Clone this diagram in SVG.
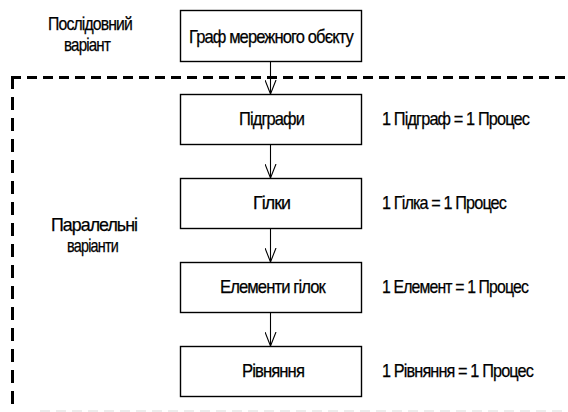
<svg xmlns="http://www.w3.org/2000/svg" width="568" height="412" viewBox="0 0 568 412">
  <style>
    text { font-family: "Liberation Sans", Arial, sans-serif; font-size: 18.5px; fill: #000; stroke: #000; stroke-width: 0.25; letter-spacing: -1px; }
    .box { fill: #fff; stroke: #000; stroke-width: 1.4; }
    .conn { stroke: #000; stroke-width: 1.1; fill: none; }
    .dashh { stroke: #000; stroke-width: 3; stroke-dasharray: 10 6; fill: none; }
    .dashv { stroke: #000; stroke-width: 3; stroke-dasharray: 13 8; fill: none; }
    .faint { stroke: #d9d9d9; stroke-width: 1.2; stroke-dasharray: 10 6; fill: none; }
  </style>
  <defs>
    <marker id="v" viewBox="0 0 14 12" markerWidth="14" markerHeight="12" refX="14" refY="6" orient="auto" markerUnits="userSpaceOnUse">
      <path d="M0,0.5 L14,6 L0,11.5" fill="none" stroke="#000" stroke-width="1.1"/>
    </marker>
  </defs>

  <g id="parallel-frame">
    <line class="dashh" x1="11" y1="77.5" x2="568" y2="77.5"/>
    <line class="dashv" x1="12.5" y1="76" x2="12.5" y2="412"/>
    <line class="faint" x1="40" y1="411" x2="568" y2="411"/>
  </g>

  <g id="label-sequential">
    <text x="48" y="30" textLength="84" lengthAdjust="spacingAndGlyphs">Послідовний</text>
    <text x="64" y="51" textLength="46" lengthAdjust="spacingAndGlyphs">варіант</text>
  </g>
  <g id="label-parallel">
    <text x="51" y="231" textLength="86" lengthAdjust="spacingAndGlyphs">Паралельні</text>
    <text x="67" y="252" textLength="51" lengthAdjust="spacingAndGlyphs">варіанти</text>
  </g>

  <g id="connectors">
    <line class="conn" x1="270.5" y1="62" x2="270.5" y2="94" marker-end="url(#v)"/>
    <line class="conn" x1="270.5" y1="144" x2="270.5" y2="178" marker-end="url(#v)"/>
    <line class="conn" x1="270.5" y1="228" x2="270.5" y2="262" marker-end="url(#v)"/>
    <line class="conn" x1="270.5" y1="312" x2="270.5" y2="346" marker-end="url(#v)"/>
  </g>

  <g id="node-graph">
    <rect class="box" x="180.5" y="10.5" width="181" height="51"/>
    <text x="189" y="43" textLength="164" lengthAdjust="spacingAndGlyphs">Граф мережного обєкту</text>
  </g>
  <g id="node-subgraphs">
    <rect class="box" x="180.5" y="94.5" width="181" height="50"/>
    <text x="239" y="125" textLength="65" lengthAdjust="spacingAndGlyphs">Підграфи</text>
  </g>
  <g id="node-branches">
    <rect class="box" x="180.5" y="178.5" width="181" height="50"/>
    <text x="253" y="209" textLength="37" lengthAdjust="spacingAndGlyphs">Гілки</text>
  </g>
  <g id="node-elements">
    <rect class="box" x="180.5" y="262.5" width="181" height="50"/>
    <text x="220" y="293" textLength="105" lengthAdjust="spacingAndGlyphs">Елементи гілок</text>
  </g>
  <g id="node-equations">
    <rect class="box" x="180.5" y="346.5" width="181" height="50"/>
    <text x="242" y="377" textLength="62" lengthAdjust="spacingAndGlyphs">Рівняння</text>
  </g>

  <g id="annotations">
    <text x="382" y="125" textLength="147" lengthAdjust="spacingAndGlyphs">1 Підграф = 1 Процес</text>
    <text x="382" y="209" textLength="124" lengthAdjust="spacingAndGlyphs">1 Гілка = 1 Процес</text>
    <text x="382" y="293" textLength="146" lengthAdjust="spacingAndGlyphs">1 Елемент = 1 Процес</text>
    <text x="382" y="377" textLength="151" lengthAdjust="spacingAndGlyphs">1 Рівняння = 1 Процес</text>
  </g>
</svg>
